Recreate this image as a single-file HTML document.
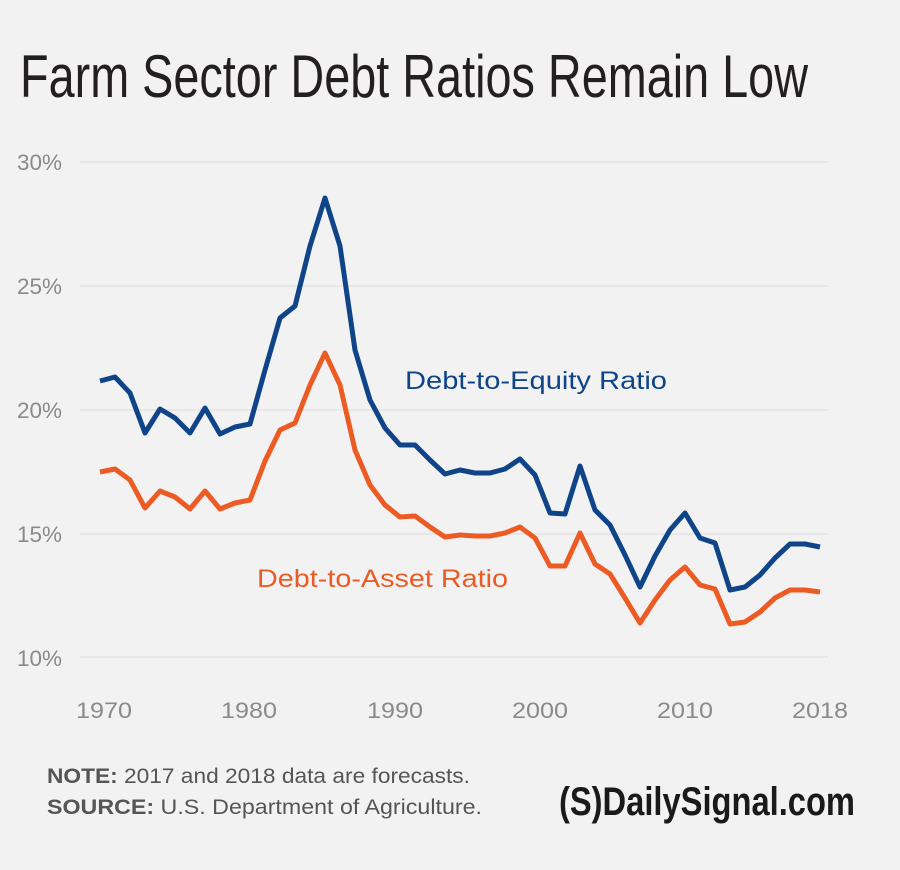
<!DOCTYPE html>
<html><head><meta charset="utf-8"><style>
html,body{margin:0;padding:0;background:#f2f2f2;}
svg{display:block;}
</style></head><body>
<svg width="900" height="870" viewBox="0 0 900 870" xmlns="http://www.w3.org/2000/svg">
<rect width="900" height="870" fill="#f2f2f2"/>
<text x="20" y="97" font-family="Liberation Sans Narrow, Liberation Sans, sans-serif" font-size="60" fill="#231f20" textLength="788" lengthAdjust="spacingAndGlyphs">Farm Sector Debt Ratios Remain Low</text>
<g stroke="#dcdcdc" stroke-width="1">
<line x1="80" y1="162" x2="828" y2="162"/>
<line x1="80" y1="286" x2="828" y2="286"/>
<line x1="80" y1="410" x2="828" y2="410"/>
<line x1="80" y1="534" x2="828" y2="534"/>
<line x1="80" y1="657" x2="828" y2="657"/>
</g>
<g font-family="Liberation Sans, sans-serif" font-size="22" fill="#8a8a8a">
<text x="17" y="170" textLength="45" lengthAdjust="spacingAndGlyphs">30%</text>
<text x="17" y="294" textLength="45" lengthAdjust="spacingAndGlyphs">25%</text>
<text x="17" y="418" textLength="45" lengthAdjust="spacingAndGlyphs">20%</text>
<text x="17" y="542" textLength="45" lengthAdjust="spacingAndGlyphs">15%</text>
<text x="17" y="666" textLength="45" lengthAdjust="spacingAndGlyphs">10%</text>
<text x="76" y="718" textLength="56" lengthAdjust="spacingAndGlyphs">1970</text>
<text x="221" y="718" textLength="56" lengthAdjust="spacingAndGlyphs">1980</text>
<text x="367" y="718" textLength="56" lengthAdjust="spacingAndGlyphs">1990</text>
<text x="512" y="718" textLength="56" lengthAdjust="spacingAndGlyphs">2000</text>
<text x="657" y="718" textLength="56" lengthAdjust="spacingAndGlyphs">2010</text>
<text x="792" y="718" textLength="56" lengthAdjust="spacingAndGlyphs">2018</text>
</g>
<polyline fill="none" stroke="#0f4488" stroke-width="5" stroke-linejoin="round" points="100,381 115,377 130,393 145,433 160,409 175,418 190,433 205,408 220,434 235,427 250,424 265,370 280,318 295,306 310,246 325,198 340,246 355,350 370,400 385,428 400,445 415,445 430,460 445,474 460,470 475,473 490,473 505,469 520,459 535,475 550,513 565,514 580,466 595,510 610,525 625,555 640,587 655,556 670,530 685,513 700,538 715,543 730,590 745,587 760,575 775,558 790,544 805,544 820,547"/>
<polyline fill="none" stroke="#ec5b24" stroke-width="5" stroke-linejoin="round" points="100,472 115,469 130,480 145,508 160,491 175,497 190,509 205,491 220,509 235,503 250,500 265,461 280,430 295,423 310,385 325,353 340,385 355,450 370,485 385,505 400,517 415,516 430,527 445,537 460,535 475,536 490,536 505,533 520,527 535,538 550,566 565,566 580,533 595,564 610,574 625,598 640,623 655,600 670,580 685,567 700,585 715,589 730,624 745,622 760,612 775,598 790,590 805,590 820,592"/>
<text x="405" y="389" font-family="Liberation Sans, sans-serif" font-size="25" fill="#0f4488" textLength="262" lengthAdjust="spacingAndGlyphs">Debt-to-Equity Ratio</text>
<text x="257" y="587" font-family="Liberation Sans, sans-serif" font-size="25" fill="#ec5b24" textLength="251" lengthAdjust="spacingAndGlyphs">Debt-to-Asset Ratio</text>
<g font-family="Liberation Sans, sans-serif" font-size="21" fill="#555">
<text x="47" y="783" textLength="423" lengthAdjust="spacingAndGlyphs"><tspan font-weight="bold">NOTE:</tspan> 2017 and 2018 data are forecasts.</text>
<text x="47" y="814" textLength="435" lengthAdjust="spacingAndGlyphs"><tspan font-weight="bold">SOURCE:</tspan> U.S. Department of Agriculture.</text>
</g>
<text x="559" y="815" font-family="Liberation Sans Narrow, Liberation Sans, sans-serif" font-weight="bold" font-size="40" fill="#1a1a1a" textLength="296" lengthAdjust="spacingAndGlyphs">(S)DailySignal.com</text>
</svg>
</body></html>
